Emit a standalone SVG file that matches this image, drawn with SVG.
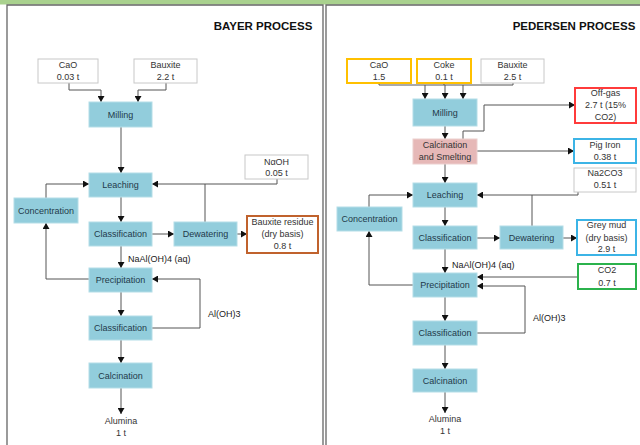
<svg xmlns="http://www.w3.org/2000/svg" width="640" height="445" viewBox="0 0 640 445">
<style>
text{font-family:"Liberation Sans",Arial,sans-serif;font-size:9px;fill:#333;text-anchor:middle}
.t{font-weight:bold;font-size:11.5px;fill:#111}
.l{text-anchor:start;fill:#222}
.p rect{fill:#92cddc;stroke:#b4dde7;stroke-width:1}
.p text{fill:#1f3a4a}
.i rect{fill:#fff;stroke:#c8c8c8;stroke-width:1}
.frame{fill:none;stroke:#666;stroke-width:1.3}
#conn path{fill:none;stroke:#555;stroke-width:1}
#conn .a{marker-end:url(#ah)}
</style>
<defs>
<marker id="ah" markerUnits="userSpaceOnUse" markerWidth="6" markerHeight="7" refX="6" refY="3.5" orient="auto"><path d="M0,0 L6,3.5 L0,7 z" fill="#111"/></marker>
</defs>
<rect x="0" y="0" width="640" height="445" fill="#fff"/>
<rect x="0" y="0" width="640" height="4.5" fill="#a9d18e"/>
<path class="frame" d="M7,450 V5 H323 V450"/>
<path class="frame" d="M326,450 V5 H645"/>
<text class="t" x="263" y="30">BAYER PROCESS</text>
<text class="t" x="574" y="30">PEDERSEN PROCESS</text>

<g id="conn">
<path class="a" d="M69,83 V90 H101 V102"/>
<path class="a" d="M166,83 V90 H138 V102"/>
<path class="a" d="M121,127 V173"/>
<path class="a" d="M277,179 V184 H152"/>
<path d="M205,222 V184"/>
<path class="a" d="M46,198 V184 H89"/>
<path class="a" d="M121,197 V222"/>
<path class="a" d="M152,234 H174"/>
<path class="a" d="M237,234 H247"/>
<path class="a" d="M121,246 V268"/>
<path class="a" d="M89,279 H46 V223"/>
<path class="a" d="M152,328 H200 V279 H152"/>
<path class="a" d="M121,292 V316"/>
<path class="a" d="M121,340 V363"/>
<path class="a" d="M121,388 V414"/>

<path d="M379,83 V85 H513 V83"/>
<path d="M444,83 V85"/>
<path class="a" d="M425,85 V99"/>
<path class="a" d="M445,85 V99"/>
<path class="a" d="M463,85 V99"/>
<path class="a" d="M445,126 V139"/>
<path class="a" d="M463,139 V131 H484 V105 H575"/>
<path class="a" d="M477,151 H574"/>
<path class="a" d="M445,164 V183"/>
<path class="a" d="M578,192 V195 H477"/>
<path d="M532,226 V195"/>
<path class="a" d="M369,207 V195 H413"/>
<path class="a" d="M445,207 V226"/>
<path class="a" d="M477,238 H500"/>
<path class="a" d="M563,238 H577"/>
<path class="a" d="M445,249 V273"/>
<path class="a" d="M578,277 H477"/>
<path class="a" d="M413,285 H369 V231"/>
<path class="a" d="M477,333 H525 V286 H477"/>
<path class="a" d="M445,297 V321"/>
<path class="a" d="M445,345 V369"/>
<path class="a" d="M445,392 V413"/>
</g>

<text class="l" x="128" y="262">NaAl(OH)4 (aq)</text>
<text class="l" x="208" y="317">Al(OH)3</text>
<text class="l" x="452" y="268">NaAl(OH)4 (aq)</text>
<text class="l" x="533" y="321">Al(OH)3</text>

<!-- Bayer nodes -->
<g id="b-cao" class="i"><rect x="38" y="59" width="60" height="24"/><text x="68" y="68">CaO</text><text x="68" y="80">0.03 t</text></g>
<g id="b-bauxite" class="i"><rect x="134" y="59" width="63" height="24"/><text x="165.5" y="68">Bauxite</text><text x="165.5" y="80">2.2 t</text></g>
<g id="b-milling" class="p"><rect x="89" y="102" width="63" height="25"/><text x="120.5" y="117.5">Milling</text></g>
<g id="b-leaching" class="p"><rect x="89" y="173" width="63" height="24"/><text x="120.5" y="188">Leaching</text></g>
<g id="b-naoh" class="i"><rect x="245" y="155" width="63" height="24"/><text x="276.5" y="165">NαOH</text><text x="276.5" y="176">0.05 t</text></g>
<g id="b-concentration" class="p"><rect x="14" y="198" width="64" height="25"/><text x="46" y="213.5">Concentration</text></g>
<g id="b-classification1" class="p"><rect x="89" y="222" width="63" height="24"/><text x="120.5" y="237">Classification</text></g>
<g id="b-dewatering" class="p"><rect x="174" y="222" width="63" height="24"/><text x="205.5" y="237">Dewatering</text></g>
<g id="b-residue"><rect x="247" y="216" width="71" height="37" fill="#fff" stroke="#c0622d" stroke-width="2"/><text x="282.5" y="225">Bauxite residue</text><text x="282.5" y="237">(dry basis)</text><text x="282.5" y="249">0.8 t</text></g>
<g id="b-precipitation" class="p"><rect x="89" y="268" width="63" height="24"/><text x="120.5" y="283">Precipitation</text></g>
<g id="b-classification2" class="p"><rect x="89" y="316" width="63" height="24"/><text x="120.5" y="331">Classification</text></g>
<g id="b-calcination" class="p"><rect x="89" y="363" width="63" height="25"/><text x="120.5" y="378.5">Calcination</text></g>
<g id="b-alumina"><text x="121" y="424">Alumina</text><text x="121" y="436">1 t</text></g>

<!-- Pedersen nodes -->
<g id="p-cao"><rect x="347" y="59" width="64" height="24" fill="#fff" stroke="#ffc000" stroke-width="2"/><text x="379" y="68">CaO</text><text x="379" y="80">1.5</text></g>
<g id="p-coke"><rect x="417" y="59" width="54" height="24" fill="#fff" stroke="#ffc000" stroke-width="2"/><text x="444" y="68">Coke</text><text x="444" y="80">0.1 t</text></g>
<g id="p-bauxite" class="i"><rect x="481" y="59" width="63" height="24"/><text x="512.5" y="68">Bauxite</text><text x="512.5" y="80">2.5 t</text></g>
<g id="p-milling" class="p"><rect x="413" y="99" width="64" height="27"/><text x="445" y="115.5">Milling</text></g>
<g id="p-smelting"><rect x="413" y="139" width="64" height="25" fill="#e6b8b7" stroke="#eccfce" stroke-width="1"/><text x="445" y="148" fill="#1f3a4a">Calcination</text><text x="445" y="160" fill="#1f3a4a">and Smelting</text></g>
<g id="p-offgas"><rect x="575" y="88" width="61" height="35" fill="#fff" stroke="#ff3b3b" stroke-width="2"/><text x="605.5" y="96">Off-gas</text><text x="605.5" y="108">2.7 t (15%</text><text x="605.5" y="120">CO2)</text></g>
<g id="p-pigiron"><rect x="574" y="139" width="62" height="24" fill="#fff" stroke="#3cb4e6" stroke-width="2"/><text x="605" y="148">Pig Iron</text><text x="605" y="160">0.38 t</text></g>
<g id="p-na2co3" class="i"><rect x="574" y="168" width="62" height="24"/><text x="605" y="176">Na2CO3</text><text x="605" y="188">0.51 t</text></g>
<g id="p-leaching" class="p"><rect x="413" y="183" width="64" height="24"/><text x="445" y="198">Leaching</text></g>
<g id="p-concentration" class="p"><rect x="337" y="207" width="65" height="24"/><text x="369.5" y="222">Concentration</text></g>
<g id="p-classification1" class="p"><rect x="413" y="226" width="64" height="23"/><text x="445" y="240.5">Classification</text></g>
<g id="p-dewatering" class="p"><rect x="500" y="226" width="63" height="23"/><text x="531.5" y="240.5">Dewatering</text></g>
<g id="p-greymud"><rect x="577" y="220" width="59" height="35" fill="#fff" stroke="#3cb4e6" stroke-width="2"/><text x="606.5" y="228">Grey mud</text><text x="606.5" y="241">(dry basis)</text><text x="606.5" y="252">2.9 t</text></g>
<g id="p-co2"><rect x="578" y="264" width="58" height="25" fill="#fff" stroke="#2bb24c" stroke-width="2"/><text x="607" y="273">CO2</text><text x="607" y="286">0.7 t</text></g>
<g id="p-precipitation" class="p"><rect x="413" y="273" width="64" height="24"/><text x="445" y="288">Precipitation</text></g>
<g id="p-classification2" class="p"><rect x="413" y="321" width="64" height="24"/><text x="445" y="336">Classification</text></g>
<g id="p-calcination" class="p"><rect x="413" y="369" width="64" height="23"/><text x="445" y="383.5">Calcination</text></g>
<g id="p-alumina"><text x="445" y="422">Alumina</text><text x="445" y="434">1 t</text></g>
</svg>
